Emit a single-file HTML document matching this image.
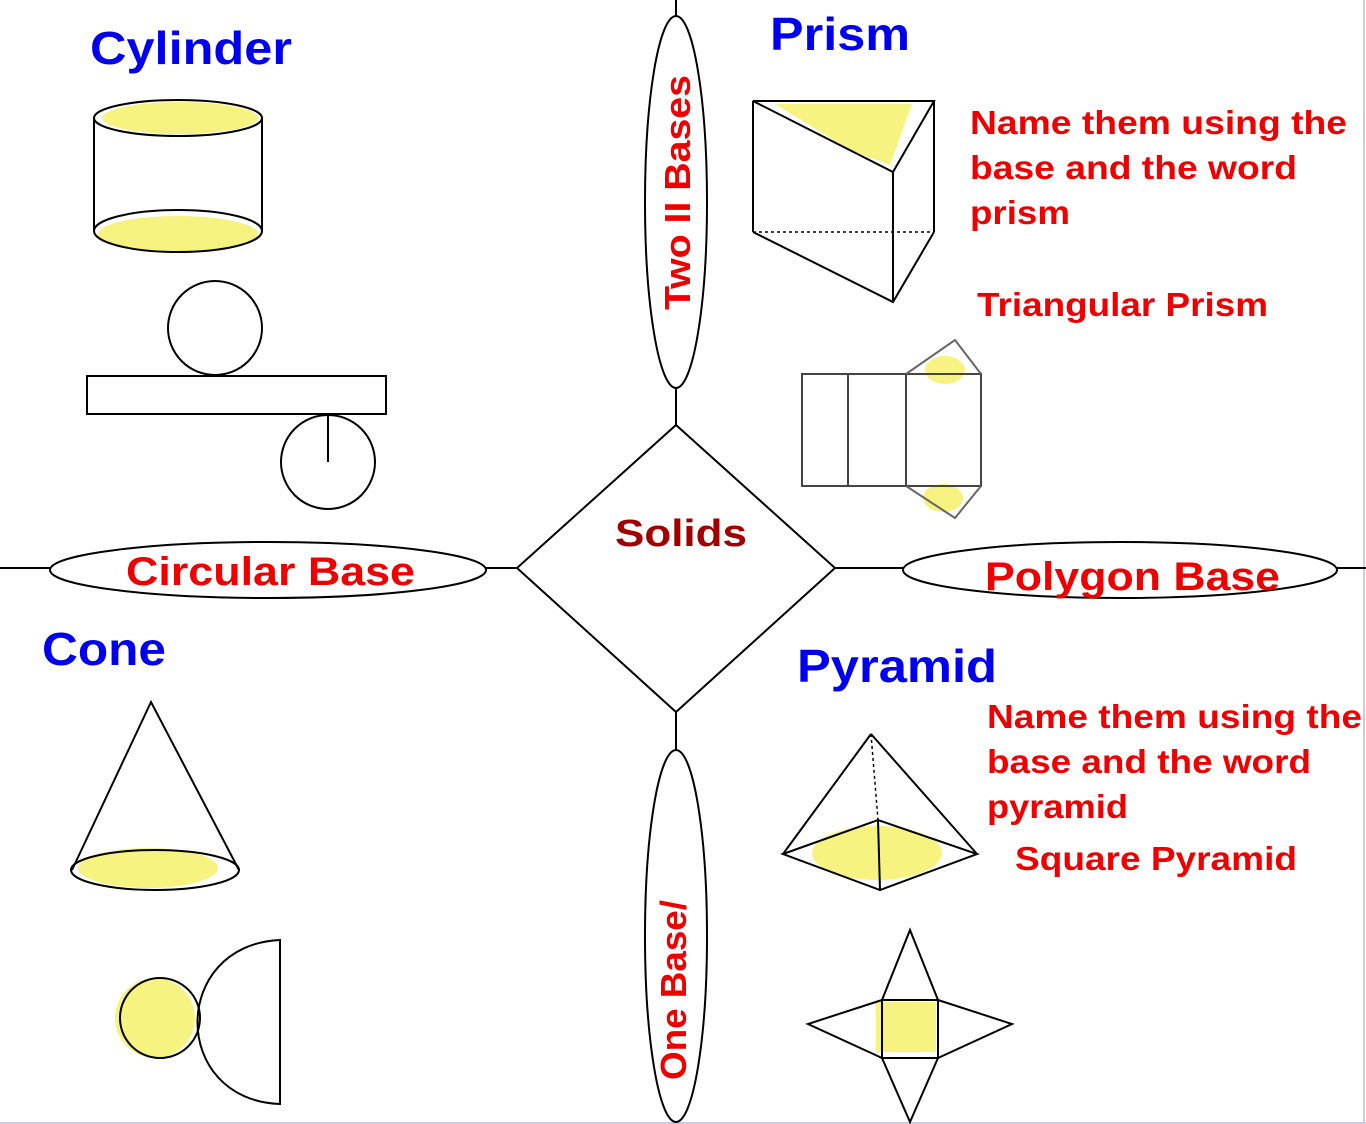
<!DOCTYPE html>
<html><head><meta charset="utf-8"><style>
html,body{margin:0;padding:0;background:#fff}
svg{display:block}
text{font-family:"Liberation Sans",Arial,sans-serif;font-weight:bold}
</style></head><body>
<svg width="1366" height="1124" viewBox="0 0 1366 1124" xmlns="http://www.w3.org/2000/svg">
<rect x="0" y="0" width="1366" height="1124" fill="#fff"/>
<line x1="1364" y1="0" x2="1364" y2="1124" stroke="#c8cce8" stroke-width="2"/>
<line x1="0" y1="1123" x2="1366" y2="1123" stroke="#c8cce8" stroke-width="2"/>
<g stroke="#000" stroke-width="2" fill="none">
<line x1="676" y1="0" x2="676" y2="16"/>
<ellipse cx="676" cy="202" rx="31" ry="186" fill="#fff"/>
<line x1="676" y1="388" x2="676" y2="425"/>
<polygon points="676,425 835,568 676,712 517,568" fill="#fff"/>
<line x1="676" y1="712" x2="676" y2="750"/>
<ellipse cx="676" cy="936" rx="31" ry="186" fill="#fff"/>
<line x1="0" y1="568" x2="50" y2="568"/>
<ellipse cx="268" cy="570" rx="218" ry="28" fill="#fff"/>
<line x1="486" y1="568" x2="517" y2="568"/>
<line x1="835" y1="568" x2="903" y2="568"/>
<ellipse cx="1120" cy="570" rx="217" ry="28" fill="#fff"/>
<line x1="1337" y1="568" x2="1366" y2="568"/>
</g>
<g fill="#f5f060" opacity="0.8">
<ellipse cx="180" cy="118" rx="78" ry="16"/>
<ellipse cx="178" cy="234" rx="80" ry="18"/>
<polygon points="775,104 912,104 890,165 850,150"/>
<ellipse cx="148" cy="868" rx="70" ry="20"/>
<circle cx="155" cy="1018" r="40"/>
<ellipse cx="877" cy="853" rx="65" ry="27"/>
<rect x="876" y="1002" width="60" height="50"/>
<ellipse cx="945" cy="370" rx="20" ry="14"/>
<ellipse cx="943" cy="498" rx="20" ry="14"/>
</g>
<g stroke="#000" stroke-width="2" fill="none">
<ellipse cx="178" cy="118" rx="84" ry="18"/>
<line x1="94" y1="118" x2="94" y2="230"/>
<line x1="262" y1="118" x2="262" y2="230"/>
<ellipse cx="178" cy="231" rx="84" ry="21"/>
<circle cx="215" cy="328" r="47"/>
<rect x="87" y="376" width="299" height="38"/>
<circle cx="328" cy="462" r="47"/>
<line x1="328" y1="414" x2="328" y2="462"/>
<polygon points="753,101 934,101 893,172"/>
<line x1="753" y1="101" x2="753" y2="232"/>
<line x1="934" y1="101" x2="934" y2="232"/>
<line x1="893" y1="172" x2="893" y2="302"/>
<polyline points="753,232 893,302 934,232"/>
<line x1="753" y1="232" x2="934" y2="232" stroke-dasharray="3,3" stroke-width="1.5"/>
<rect x="802" y="374" width="179" height="112" stroke="#444"/>
<line x1="848" y1="374" x2="848" y2="486" stroke="#444"/>
<line x1="906" y1="374" x2="906" y2="486" stroke="#444"/>
<polyline points="906,374 955,340 981,374" stroke="#666"/>
<polyline points="906,486 955,518 981,486" stroke="#666"/>
<polyline points="72,870 151,702 239,870"/>
<ellipse cx="155" cy="870" rx="84" ry="20"/>
<circle cx="160" cy="1018" r="40"/>
<path d="M280,940 C170,945 170,1100 280,1104 Z"/>
<polygon points="783,854 878,820 977,854 880,890"/>
<line x1="871" y1="734" x2="783" y2="854"/>
<line x1="871" y1="734" x2="977" y2="854"/>
<line x1="871" y1="734" x2="878" y2="820" stroke-dasharray="3,3" stroke-width="1.5"/>
<line x1="878" y1="820" x2="880" y2="890"/>
<rect x="882" y="1000" width="56" height="58"/>
<polyline points="882,1000 910,930 938,1000"/>
<polyline points="882,1058 910,1122 938,1058"/>
<polyline points="882,1000 808,1024 882,1058"/>
<polyline points="938,1000 1012,1024 938,1058"/>
</g>
<g fill="#0000ee" font-size="46" lengthAdjust="spacingAndGlyphs">
<text x="90" y="64" textLength="202" lengthAdjust="spacingAndGlyphs">Cylinder</text>
<text x="770" y="50" textLength="140" lengthAdjust="spacingAndGlyphs">Prism</text>
<text x="42" y="665" textLength="124" lengthAdjust="spacingAndGlyphs">Cone</text>
<text x="797" y="682" textLength="200" lengthAdjust="spacingAndGlyphs">Pyramid</text>
</g>
<g fill="#ee0000">
<text x="126" y="585" font-size="40" textLength="289" lengthAdjust="spacingAndGlyphs">Circular Base</text>
<text x="985" y="590" font-size="40" textLength="295" lengthAdjust="spacingAndGlyphs">Polygon Base</text>
<text font-size="36" transform="translate(690,310) rotate(-90)" textLength="235" lengthAdjust="spacingAndGlyphs">Two II Bases</text>
<text font-size="36" transform="translate(686,1080) rotate(-90)" textLength="180" lengthAdjust="spacingAndGlyphs">One Base/</text>
<g font-size="33">
<text x="970" y="134" textLength="377" lengthAdjust="spacingAndGlyphs">Name them using the</text>
<text x="970" y="179" textLength="327" lengthAdjust="spacingAndGlyphs">base and the word</text>
<text x="970" y="224" textLength="100" lengthAdjust="spacingAndGlyphs">prism</text>
<text x="977" y="316" textLength="291" lengthAdjust="spacingAndGlyphs">Triangular Prism</text>
<text x="987" y="728" textLength="375" lengthAdjust="spacingAndGlyphs">Name them using the</text>
<text x="987" y="773" textLength="324" lengthAdjust="spacingAndGlyphs">base and the word</text>
<text x="987" y="818" textLength="141" lengthAdjust="spacingAndGlyphs">pyramid</text>
<text x="1015" y="870" textLength="282" lengthAdjust="spacingAndGlyphs">Square Pyramid</text>
</g>
</g>
<text x="615" y="546" font-size="38" fill="#a00000" textLength="132" lengthAdjust="spacingAndGlyphs">Solids</text>
</svg>
</body></html>
